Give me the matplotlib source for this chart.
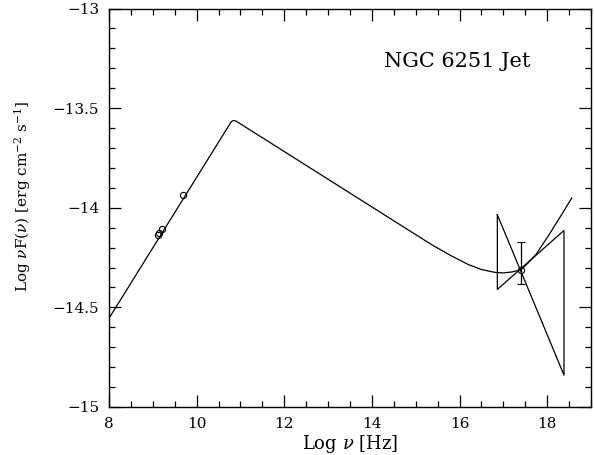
import matplotlib
matplotlib.use('Agg')
import matplotlib.pyplot as plt
from matplotlib.ticker import MultipleLocator

plt.rcParams['font.family'] = ['DejaVu Serif']
plt.rcParams['mathtext.fontset'] = 'dejavuserif'

# synchrotron model curve
model_x = [8.0, 10.79, 10.84, 10.90, 12.0, 13.0, 14.0, 15.0, 15.4, 15.8, 16.2,
           16.5, 16.8, 17.0, 17.2, 17.394, 17.55, 17.74, 18.04, 18.35, 18.56]
model_y = [-14.555, -13.568, -13.562, -13.565, -13.718, -13.857, -13.996, -14.135,
           -14.19, -14.24, -14.285, -14.31, -14.324, -14.327, -14.322, -14.312,
           -14.28, -14.236, -14.136, -14.027, -13.951]

# radio / optical points
radio_x = [9.12, 9.15, 9.20, 9.68]
radio_y = [-14.138, -14.125, -14.108, -13.937]

# X-ray point with error bar
xray_x = 17.394
xray_y = -14.312
xray_lo = -14.382
xray_hi = -14.172

# X-ray bow tie (left/right edges)
bow_x = [16.862, 18.383]
bow_top = [-14.035, -14.114]
bow_bot = [-14.41, -14.84]

fig = plt.figure(figsize=(5.94, 4.55), dpi=100)
ax = fig.add_axes([0.1835, 0.1055, 0.8115, 0.8758])

ax.plot(model_x, model_y, '-', color='black', lw=0.9)
ax.plot(radio_x, radio_y, 'o', mfc='none', mec='black', ms=4.5, mew=0.8)

# bow tie
ax.plot([bow_x[0], bow_x[0], bow_x[1], bow_x[1], bow_x[0]],
        [bow_top[0], bow_bot[0], bow_top[1], bow_bot[1], bow_top[0]],
        '-', color='black', lw=0.9)
ax.errorbar([xray_x], [xray_y], yerr=[[xray_y - xray_lo], [xray_hi - xray_y]],
            fmt='o', mfc='none', mec='black', ms=4.5, mew=0.8,
            ecolor='black', elinewidth=0.9, capsize=3, capthick=0.9)

ax.set_xlim(8, 19)
ax.set_ylim(-15, -13)
ax.xaxis.set_major_locator(MultipleLocator(2))
ax.xaxis.set_minor_locator(MultipleLocator(0.5))
ax.yaxis.set_major_locator(MultipleLocator(0.5))
ax.yaxis.set_minor_locator(MultipleLocator(0.1))
ax.tick_params(which='both', direction='in', top=True, right=True, labelsize=11)
ax.tick_params(which='major', length=8.5, width=0.9, pad=7)
ax.tick_params(which='minor', length=4, width=0.9)
ax.yaxis.set_major_formatter(plt.FuncFormatter(lambda v, p: f'{v:g}'.replace('-', '\u2212')))
for s in ax.spines.values():
    s.set_linewidth(1.0)

ax.set_xlabel(r'Log $\nu$ [Hz]', fontsize=13)
ax.xaxis.set_label_coords(0.5, -0.064)
ax.set_ylabel(r'Log $\nu$F($\nu$) [erg cm$^{-2}$ s$^{-1}$]', fontsize=11)
ax.yaxis.set_label_coords(-0.158, 0.528)

ax.text(15.95, -13.265, 'NGC 6251 Jet', fontsize=15, ha='center', va='center')

fig.savefig('out.png', dpi=100)
